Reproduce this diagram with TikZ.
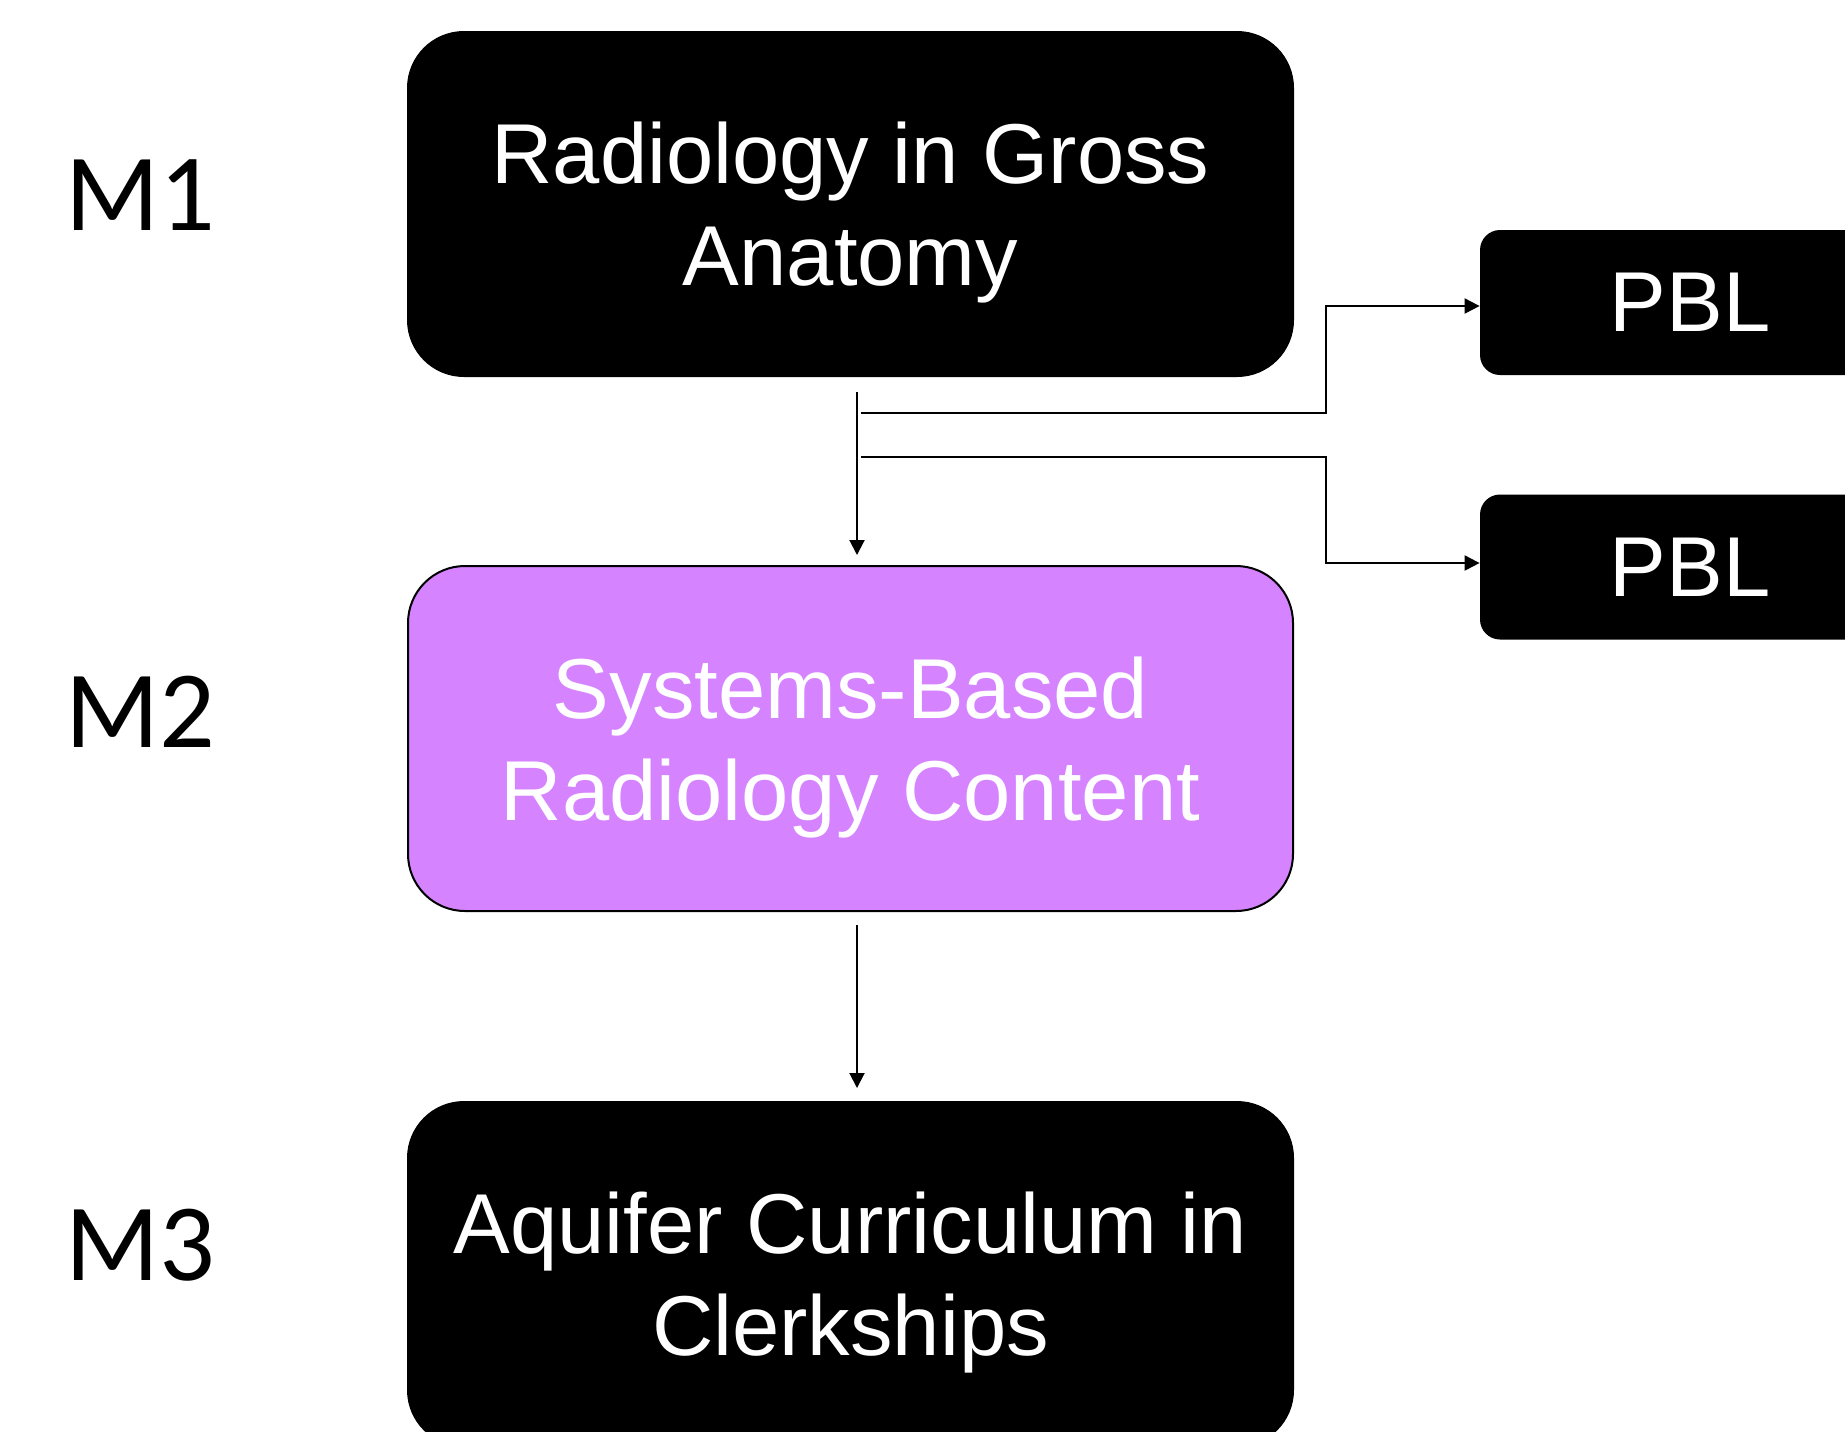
\documentclass[tikz,border=0pt]{standalone}
\usepackage{fontspec}
\setmainfont{Liberation Sans}
\newfontfamily\calibrifont{Carlito}
\usetikzlibrary{arrows.meta,calc}
\definecolor{boxpurple}{RGB}{214,131,255}
\begin{document}
\begin{tikzpicture}[x=0.5pt,y=-0.5pt,
  boxtext/.style={inner sep=0pt, align=center, text=white, font=\fontsize{42.5}{51}\selectfont},
  bigbox/.style={boxtext, text depth=0pt, rounded corners=28.5pt, minimum width=443.5pt, minimum height=173pt},
  blackbox/.style={bigbox, fill=black},
  purplebox/.style={bigbox, fill=boxpurple, draw=black, line width=1pt, minimum width=442.5pt, minimum height=172.5pt},
  pblbox/.style={boxtext, fill=black, rounded corners=10pt, minimum width=210pt, minimum height=72.5pt},
  mlabel/.style={inner sep=0pt, text=black, font=\calibrifont\fontsize{55}{60}\selectfont},
  conn/.style={line width=1pt, draw=black},
  arr/.style={conn, -{Triangle[width=7.5pt,length=7.5pt]}}
]
\useasboundingbox (0,0) rectangle (1845,1431);
\fill[white] (0,0) rectangle (1845,1431);

\node[blackbox] (top) at (850.5,204) {Radiology in Gross\\Anatomy};
\node[purplebox] (mid) at (850.5,738.5) {Systems-Based\\Radiology Content};
\node[blackbox] (bot) at (850.5,1274) {Aquifer Curriculum in\\Clerkships};
\node[pblbox] (pbl1) at (1690,302.5) {PBL};
\node[pblbox] (pbl2) at (1690,567) {PBL};

\node[mlabel] (m1) at (140,195) {M1};
\node[mlabel] (m2) at (140,712) {M2};
\node[mlabel] (m3) at (140,1245) {M3};

\coordinate (a1s) at (857,392);
\coordinate (a1e) at (857,555);
\coordinate (a2s) at (857,925);
\coordinate (a2e) at (857,1088);
\coordinate (b1) at (861,413);
\coordinate (k1) at (1326,413);
\coordinate (b2) at (861,457);
\coordinate (k2) at (1326,457);

\draw[arr] (a1s) -- (a1e);
\draw[arr] (a2s) -- (a2e);
\draw[arr] (b1) -- (k1) |- ($(pbl1.west)+(0,3.5)$);
\draw[arr] (b2) -- (k2) |- ($(pbl2.west)+(0,-4)$);
\end{tikzpicture}
\end{document}
